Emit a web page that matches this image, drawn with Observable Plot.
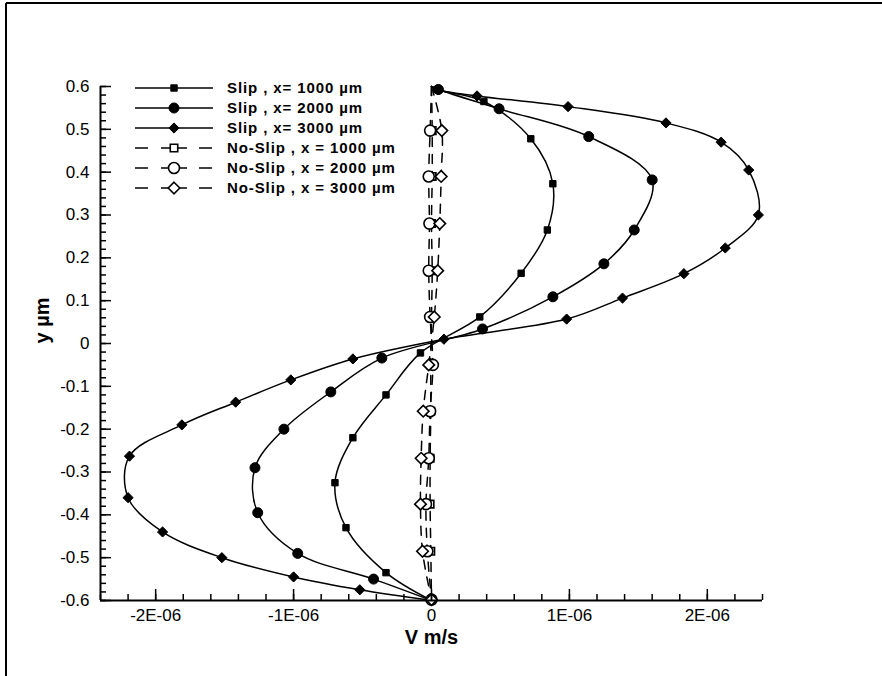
<!DOCTYPE html>
<html><head><meta charset="utf-8">
<script src="https://cdn.jsdelivr.net/npm/d3@7"></script>
<script src="https://cdn.jsdelivr.net/npm/@observablehq/plot@0.6"></script>
<style>body{margin:0;background:#fff}</style>
</head><body><div id="chart"></div>
<script>
// ---- data (V in units of 1E-06 m/s, y in µm) ----
const xMajorTicks = [-2, -1, 0, 1, 2];
const xTickLabels = ["-2E-06", "-1E-06", "0", "1E-06", "2E-06"];
const yMajorTicks = [-0.6, -0.5, -0.4, -0.3, -0.2, -0.1, 0, 0.1, 0.2, 0.3, 0.4, 0.5, 0.6];
const yTickLabels = ["-0.6", "-0.5", "-0.4", "-0.3", "-0.2", "-0.1", "0", "0.1", "0.2", "0.3", "0.4", "0.5", "0.6"];

const slip1000 = [[0,0.6],[0.04,0.593],[0.38,0.565],[0.72,0.478],[0.88,0.373],[0.84,0.265],[0.65,0.164],[0.35,0.062],[-0.08,-0.022],[-0.33,-0.12],[-0.57,-0.22],[-0.70,-0.325],[-0.62,-0.43],[-0.33,-0.535],[0,-0.6]];
const slip2000 = [[0,0.6],[0.05,0.593],[0.49,0.548],[1.14,0.483],[1.60,0.382],[1.47,0.265],[1.25,0.186],[0.88,0.109],[0.37,0.034],[-0.36,-0.034],[-0.73,-0.113],[-1.07,-0.2],[-1.28,-0.29],[-1.26,-0.395],[-0.97,-0.49],[-0.42,-0.55],[0,-0.6]];
const slip3000 = [[0,0.6],[0.05,0.592],[0.33,0.578],[0.99,0.553],[1.70,0.515],[2.10,0.47],[2.30,0.405],[2.37,0.30],[2.13,0.223],[1.83,0.163],[1.385,0.106],[0.98,0.057],[0.09,0.01],[-0.57,-0.036],[-1.02,-0.085],[-1.42,-0.137],[-1.81,-0.19],[-2.19,-0.263],[-2.20,-0.36],[-1.95,-0.44],[-1.52,-0.50],[-1.00,-0.545],[-0.52,-0.575],[0,-0.6]];

const noSlipY = [0.6, 0.497, 0.39, 0.28, 0.17, 0.062, -0.05, -0.158, -0.268, -0.375, -0.485, -0.598];
const noSlip1000 = [0.0, 0.005, 0.005, 0.0, 0.005, 0.0, -0.005, -0.005, -0.01, -0.01, -0.005, 0.0];
const noSlip2000 = [0.0, -0.01, -0.02, -0.015, -0.02, -0.01, 0.01, -0.01, -0.02, -0.04, -0.03, 0.0];
const noSlip3000 = [0.0, 0.075, 0.07, 0.06, 0.045, 0.02, -0.02, -0.06, -0.075, -0.08, -0.065, 0.0];

const legendLabels = ["Slip , x= 1000 \u00b5m", "Slip , x= 2000 \u00b5m", "Slip , x= 3000 \u00b5m",
  "No-Slip , x = 1000 \u00b5m", "No-Slip , x = 2000 \u00b5m", "No-Slip , x = 3000 \u00b5m"];

// ---- build ----
const W = 882, H = 676, mL = 100, mR = 120, mT = 86, mB = 76;
const iw = W - mL - mR, ih = H - mT - mB;
const toPts = a => a.map(([v, y]) => ({v: v * 1e-6, y}));
const ns = vals => vals.map((v, i) => ({v: v * 1e-6, y: noSlipY[i]}));
const xMinor = d3.range(-24, 25, 2).map(d => d / 10 * 1e-6);
const yMinor = d3.range(-30, 31).map(d => d / 50);
const font = "Liberation Sans, Arial, sans-serif";

const slipSeries = [
  {data: toPts(slip1000), symbol: "square", r: 3.6},
  {data: toPts(slip2000), symbol: "circle", r: 5},
  {data: toPts(slip3000), symbol: "diamond2", r: 4.6}
];
const nsSeries = [
  {data: ns(noSlip1000), symbol: "square", r: 4.2},
  {data: ns(noSlip2000), symbol: "circle", r: 5.5},
  {data: ns(noSlip3000), symbol: "diamond2", r: 5.2}
];

const marks = [];
for (const s of nsSeries) {
  marks.push(Plot.line(s.data, {x: "v", y: "y", stroke: "black", strokeWidth: 1.5, strokeDasharray: "9,8", curve: "catmull-rom"}));
}
for (const s of slipSeries) {
  marks.push(Plot.line(s.data, {x: "v", y: "y", stroke: "black", strokeWidth: 1.5, curve: "catmull-rom"}));
}
for (const s of nsSeries) {
  marks.push(Plot.dot(s.data.slice(1), {x: "v", y: "y", symbol: () => s.symbol, r: s.r, fill: "white", stroke: "black", strokeWidth: 1.6}));
}
for (const s of slipSeries) {
  marks.push(Plot.dot(s.data.slice(1, -1), {x: "v", y: "y", symbol: () => s.symbol, r: s.r, fill: "black", stroke: "black", strokeWidth: 1}));
}
// ticks pointing inward
marks.push(Plot.tickX(xMinor, {x: d => d, insetTop: ih - 6, stroke: "black", strokeWidth: 1.5}));
marks.push(Plot.tickX(xMajorTicks.map(d => d * 1e-6), {x: d => d, insetTop: ih - 11, stroke: "black", strokeWidth: 1.5}));
marks.push(Plot.tickY(yMinor, {y: d => d, insetRight: iw - 6, stroke: "black", strokeWidth: 1.5}));
marks.push(Plot.tickY(yMajorTicks, {y: d => d, insetRight: iw - 11, stroke: "black", strokeWidth: 1.5}));
// axis lines
marks.push(Plot.ruleY([-0.6], {stroke: "black", strokeWidth: 2}));
marks.push(Plot.ruleX([-2.4e-6], {stroke: "black", strokeWidth: 2}));
// tick labels
marks.push(Plot.axisX(xMajorTicks.map(d => d * 1e-6), {tickSize: 0, tickPadding: 8, tickFormat: (d, i) => xTickLabels[i], fontSize: 17, fill: "black", label: null}));
marks.push(Plot.axisY(yMajorTicks, {tickSize: 0, tickPadding: 11, tickFormat: (d, i) => yTickLabels[i], fontSize: 17, fill: "black", label: null}));
// axis titles
marks.push(Plot.text(["V m/s"], {frameAnchor: "bottom", dy: 43, text: d => d, fontSize: 20, fontWeight: "bold", fill: "black"}));
marks.push(Plot.text(["y \u00b5m"], {frameAnchor: "left", dx: -58, rotate: -90, text: d => d, fontSize: 20, fontWeight: "bold", fill: "black"}));

const chart = Plot.plot({
  width: W, height: H,
  marginLeft: mL, marginRight: mR, marginTop: mT, marginBottom: mB,
  x: {domain: [-2.4e-6, 2.4e-6], axis: null},
  y: {domain: [-0.6, 0.6], axis: null},
  style: {fontFamily: font, background: "white", color: "black", overflow: "visible"},
  marks
});

// legend + outer frame
const svg = d3.select(chart);
svg.append("line").attr("x1", 6).attr("x2", W).attr("y1", 3).attr("y2", 3).attr("stroke", "black").attr("stroke-width", 2);
svg.append("line").attr("x1", 6).attr("x2", 6).attr("y1", 3).attr("y2", H).attr("stroke", "black").attr("stroke-width", 2);
const lg = svg.append("g").attr("font-family", font).attr("font-size", 15).attr("font-weight", "bold").attr("text-anchor", "start").style("letter-spacing", "0.9px");
const allSeries = [...slipSeries, ...nsSeries];
allSeries.forEach((s, i) => {
  const y = 88 + i * 20;
  const solid = i < 3;
  if (solid) {
    lg.append("line").attr("x1", 135).attr("x2", 213).attr("y1", y).attr("y2", y).attr("stroke", "black").attr("stroke-width", 1.5);
  } else {
    [[135, 148], [161, 187], [199, 212]].forEach(([a, b]) =>
      lg.append("line").attr("x1", a).attr("x2", b).attr("y1", y).attr("y2", y).attr("stroke", "black").attr("stroke-width", 1.5));
  }
  const sym = {square: d3.symbolSquare, circle: d3.symbolCircle, diamond2: d3.symbolDiamond2}[s.symbol];
  lg.append("path").attr("d", d3.symbol(sym, Math.PI * s.r * s.r)()).attr("transform", `translate(174,${y})`)
    .attr("fill", solid ? "black" : "white").attr("stroke", "black").attr("stroke-width", solid ? 1 : 1.6);
  lg.append("text").attr("x", 227).attr("y", y).attr("dy", "0.35em").attr("text-anchor", "start").text(legendLabels[i]);
});

document.getElementById("chart").appendChild(chart);
</script>
</body></html>
